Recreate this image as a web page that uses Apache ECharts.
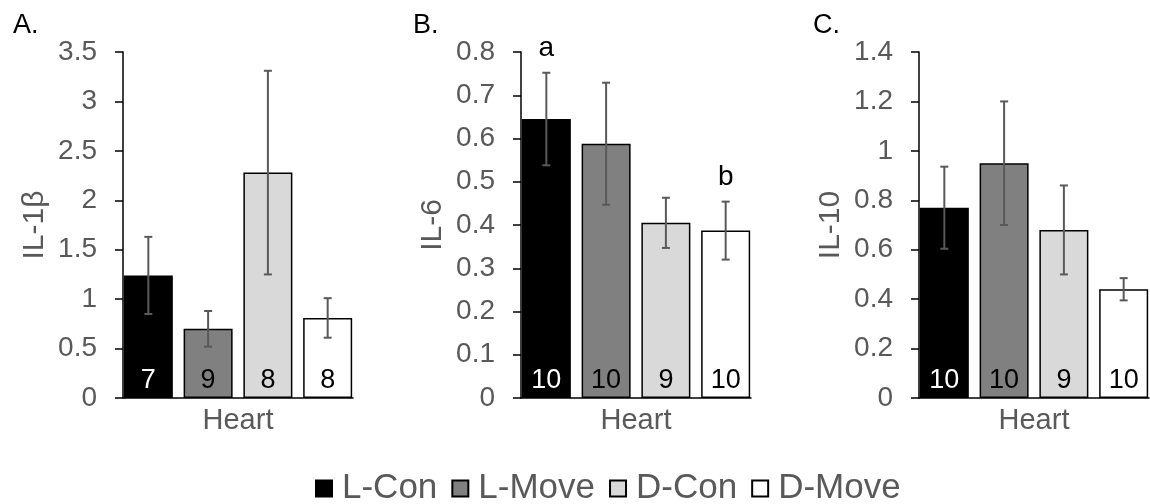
<!DOCTYPE html>
<html>
<head>
<meta charset="utf-8">
<script src="https://cdn.jsdelivr.net/npm/echarts@6/dist/echarts.min.js"></script>
<style>
  html, body { margin: 0; padding: 0; background: #fff; }
  #chart { width: 1150px; height: 504px; }
</style>
</head>
<body>
<div id="chart"></div>
<script>
// groups and their fills
const groups = ['L-Con', 'L-Move', 'D-Con', 'D-Move'];
const fills = ['#000000', '#808080', '#d9d9d9', '#ffffff'];
const category = ['Heart'];

// A. IL-1β
const il1bMean = [1.24, 0.70, 2.28, 0.81];
const il1bErr = [0.39, 0.18, 1.03, 0.20];
const il1bN = [7, 9, 8, 8];

// B. IL-6
const il6Mean = [0.645, 0.588, 0.405, 0.387];
const il6Err = [0.107, 0.141, 0.058, 0.067];
const il6N = [10, 10, 9, 10];
const il6Letters = ['a', '', '', 'b'];

// C. IL-10
const il10Mean = [0.77, 0.95, 0.68, 0.44];
const il10Err = [0.166, 0.25, 0.18, 0.045];
const il10N = [10, 10, 9, 10];

const panels = [
    { tag: 'A.', name: 'IL-1β', max: 3.5, interval: 0.5, mean: il1bMean, err: il1bErr, n: il1bN, letters: ['', '', '', ''] },
    { tag: 'B.', name: 'IL-6', max: 0.8, interval: 0.1, mean: il6Mean, err: il6Err, n: il6N, letters: il6Letters },
    { tag: 'C.', name: 'IL-10', max: 1.4, interval: 0.2, mean: il10Mean, err: il10Err, n: il10N, letters: ['', '', '', ''] },
];

const FONT = "'Liberation Sans', Arial, sans-serif";
const GREY = '#595959';
const BAR_W = 49;
const BAR_GAP = '22%';
const gridLefts = [123, 521, 919];
const tagLefts = [13, 413, 813];

const chart = echarts.init(document.getElementById('chart'), null, { renderer: 'canvas' });

const grid = [], xAxis = [], yAxis = [], series = [], title = [];

panels.forEach((p, gi) => {
    grid.push({ left: gridLefts[gi], top: 52, width: 230, height: 346 });
    title.push({
        text: p.tag, left: tagLefts[gi], top: 12, padding: 0,
        textStyle: { fontFamily: FONT, fontSize: 27, fontWeight: 'normal', color: '#000' },
    });
    xAxis.push({
        gridIndex: gi, type: 'category', data: category,
        axisLine: { lineStyle: { color: '#000', width: 1.5 } },
        axisTick: { show: false },
        axisLabel: { fontFamily: FONT, fontSize: 29, color: GREY, margin: 8 },
    });
    yAxis.push({
        gridIndex: gi, type: 'value', min: 0, max: p.max, interval: p.interval,
        name: p.name, nameLocation: 'middle', nameGap: 73, nameRotate: 90,
        nameTextStyle: { fontFamily: FONT, fontSize: 30, color: GREY },
        axisLine: { show: true, lineStyle: { color: '#000', width: 1.5 } },
        axisTick: { show: true, length: 8, lineStyle: { color: '#000', width: 1.5 } },
        axisLabel: { fontFamily: FONT, fontSize: 28, color: GREY, margin: 26 },
        splitLine: { show: false },
    });

    groups.forEach((g, si) => {
        series.push({
            name: g, type: 'bar', xAxisIndex: gi, yAxisIndex: gi,
            data: [p.mean[si]],
            barWidth: BAR_W, barGap: BAR_GAP,
            itemStyle: { color: fills[si], borderColor: '#000', borderWidth: 1.5 },
            label: {
                show: true, position: 'insideBottom', distance: 4,
                formatter: String(p.n[si]),
                fontFamily: FONT, fontSize: 27,
                color: si === 0 ? '#fff' : '#000',
            },
            emphasis: { disabled: true },
        });
    });

    // error bars + significance letters
    series.push({
        type: 'custom', xAxisIndex: gi, yAxisIndex: gi, z: 5,
        encode: { x: 0, y: 1 },
        data: p.mean.map((m, i) => [0, m, p.err[i], i]),
        renderItem(params, api) {
            const cat = api.value(0);
            const m = api.value(1);
            const e = api.value(2);
            const idx = api.value(3);
            const layout = api.barLayout({ count: groups.length, barWidth: BAR_W, barGap: BAR_GAP });
            const x = api.coord([cat, 0])[0] + layout[idx].offsetCenter;
            const yTop = api.coord([cat, m + e])[1];
            const yBot = api.coord([cat, m - e])[1];
            const style = { stroke: GREY, lineWidth: 2 };
            const children = [
                { type: 'line', shape: { x1: x, y1: yTop, x2: x, y2: yBot }, style },
                { type: 'line', shape: { x1: x - 4, y1: yTop, x2: x + 4, y2: yTop }, style },
                { type: 'line', shape: { x1: x - 4, y1: yBot, x2: x + 4, y2: yBot }, style },
            ];
            const letter = p.letters[idx];
            if (letter) {
                children.push({
                    type: 'text',
                    style: {
                        text: letter, x: x, y: yTop - 24,
                        align: 'center', verticalAlign: 'middle',
                        font: '28px ' + FONT, fill: '#000',
                    },
                });
            }
            return { type: 'group', children };
        },
    });
});

chart.setOption({
    animation: false,
    backgroundColor: '#fff',
    title,
    grid, xAxis, yAxis,
    legend: {
        data: groups,
        left: 310, top: 466,
        icon: 'rect', itemWidth: 16, itemHeight: 16, itemGap: 14,
        textStyle: { fontFamily: FONT, fontSize: 35, color: GREY, padding: [0, 0, 0, 5] },
        selectedMode: false,
    },
    series,
});
</script>
</body>
</html>
